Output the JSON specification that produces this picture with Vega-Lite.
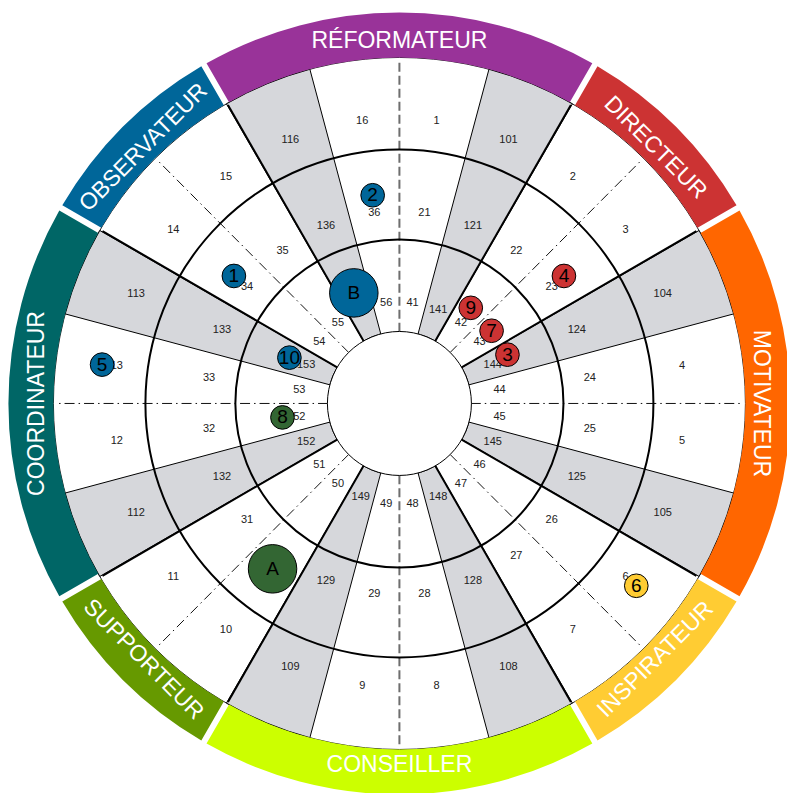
{
  "$schema": "https://vega.github.io/schema/vega-lite/v6.json",
  "width": 787,
  "height": 793,
  "autosize": {"type": "fit", "contains": "padding"},
  "padding": 0,
  "background": "white",
  "config": {"view": {"stroke": null}, "text": {"font": "Liberation Sans"}},
  "resolve": {"scale": {"color": "independent"}},
  "datasets": {
    "anneau": [
      {"type": "RÉFORMATEUR", "a0": 330, "a1": 390, "milieu": 0},
      {"type": "DIRECTEUR", "a0": 30, "a1": 60, "milieu": 45},
      {"type": "MOTIVATEUR", "a0": 60, "a1": 120, "milieu": 90},
      {"type": "INSPIRATEUR", "a0": 120, "a1": 150, "milieu": 135},
      {"type": "CONSEILLER", "a0": 150, "a1": 210, "milieu": 180},
      {"type": "SUPPORTEUR", "a0": 210, "a1": 240, "milieu": 225},
      {"type": "COORDINATEUR", "a0": 240, "a1": 300, "milieu": 270},
      {"type": "OBSERVATEUR", "a0": 300, "a1": 330, "milieu": 315}
    ],
    "gris": [
      {"a0": 15, "a1": 30}, {"a0": 60, "a1": 75}, {"a0": 105, "a1": 120}, {"a0": 150, "a1": 165},
      {"a0": 195, "a1": 210}, {"a0": 240, "a1": 255}, {"a0": 285, "a1": 300}, {"a0": 330, "a1": 345}
    ],
    "axesGris": [
      {"x1": 0, "y1": 72, "x2": 0, "y2": 346},
      {"x1": 0, "y1": -72, "x2": 0, "y2": -346}
    ],
    "axesNoirs": [
      {"x1": 72, "y1": 0, "x2": 346, "y2": 0},
      {"x1": -72, "y1": 0, "x2": -346, "y2": 0},
      {"x1": 50.9, "y1": 50.9, "x2": 244.7, "y2": 244.7},
      {"x1": 50.9, "y1": -50.9, "x2": 244.7, "y2": -244.7},
      {"x1": -50.9, "y1": -50.9, "x2": -244.7, "y2": -244.7},
      {"x1": -50.9, "y1": 50.9, "x2": -244.7, "y2": 244.7}
    ],
    "frontieres": [
      {"x1": 36, "y1": 62.35, "x2": 173, "y2": 299.6},
      {"x1": 62.35, "y1": 36, "x2": 299.6, "y2": 173},
      {"x1": 62.35, "y1": -36, "x2": 299.6, "y2": -173},
      {"x1": 36, "y1": -62.35, "x2": 173, "y2": -299.6},
      {"x1": -36, "y1": -62.35, "x2": -173, "y2": -299.6},
      {"x1": -62.35, "y1": -36, "x2": -299.6, "y2": -173},
      {"x1": -62.35, "y1": 36, "x2": -299.6, "y2": 173},
      {"x1": -36, "y1": 62.35, "x2": -173, "y2": 299.6}
    ],
    "cercles": [{"r": 164}, {"r": 254}],
    "secteurs": [
      {"n": "1", "a": 7.5, "r": 285}, {"n": "101", "a": 22.5, "r": 285}, {"n": "2", "a": 37.5, "r": 285}, {"n": "3", "a": 52.5, "r": 285},
      {"n": "104", "a": 67.5, "r": 285}, {"n": "4", "a": 82.5, "r": 285}, {"n": "5", "a": 97.5, "r": 285}, {"n": "105", "a": 112.5, "r": 285},
      {"n": "6", "a": 127.5, "r": 285}, {"n": "7", "a": 142.5, "r": 285}, {"n": "108", "a": 157.5, "r": 285}, {"n": "8", "a": 172.5, "r": 285},
      {"n": "9", "a": 187.5, "r": 285}, {"n": "109", "a": 202.5, "r": 285}, {"n": "10", "a": 217.5, "r": 285}, {"n": "11", "a": 232.5, "r": 285},
      {"n": "112", "a": 247.5, "r": 285}, {"n": "12", "a": 262.5, "r": 285}, {"n": "13", "a": 277.5, "r": 285}, {"n": "113", "a": 292.5, "r": 285},
      {"n": "14", "a": 307.5, "r": 285}, {"n": "15", "a": 322.5, "r": 285}, {"n": "116", "a": 337.5, "r": 285}, {"n": "16", "a": 352.5, "r": 285},
      {"n": "21", "a": 7.5, "r": 192}, {"n": "121", "a": 22.5, "r": 192}, {"n": "22", "a": 37.5, "r": 192}, {"n": "23", "a": 52.5, "r": 192},
      {"n": "124", "a": 67.5, "r": 192}, {"n": "24", "a": 82.5, "r": 192}, {"n": "25", "a": 97.5, "r": 192}, {"n": "125", "a": 112.5, "r": 192},
      {"n": "26", "a": 127.5, "r": 192}, {"n": "27", "a": 142.5, "r": 192}, {"n": "128", "a": 157.5, "r": 192}, {"n": "28", "a": 172.5, "r": 192},
      {"n": "29", "a": 187.5, "r": 192}, {"n": "129", "a": 202.5, "r": 192}, {"n": "30", "a": 217.5, "r": 192}, {"n": "31", "a": 232.5, "r": 192},
      {"n": "132", "a": 247.5, "r": 192}, {"n": "32", "a": 262.5, "r": 192}, {"n": "33", "a": 277.5, "r": 192}, {"n": "133", "a": 292.5, "r": 192},
      {"n": "34", "a": 307.5, "r": 192}, {"n": "35", "a": 322.5, "r": 192}, {"n": "136", "a": 337.5, "r": 192}, {"n": "36", "a": 352.5, "r": 192},
      {"n": "41", "a": 7.5, "r": 101}, {"n": "141", "a": 22.5, "r": 101}, {"n": "42", "a": 37.5, "r": 101}, {"n": "43", "a": 52.5, "r": 101},
      {"n": "144", "a": 67.5, "r": 101}, {"n": "44", "a": 82.5, "r": 101}, {"n": "45", "a": 97.5, "r": 101}, {"n": "145", "a": 112.5, "r": 101},
      {"n": "46", "a": 127.5, "r": 101}, {"n": "47", "a": 142.5, "r": 101}, {"n": "148", "a": 157.5, "r": 101}, {"n": "48", "a": 172.5, "r": 101},
      {"n": "49", "a": 187.5, "r": 101}, {"n": "149", "a": 202.5, "r": 101}, {"n": "50", "a": 217.5, "r": 101}, {"n": "51", "a": 232.5, "r": 101},
      {"n": "152", "a": 247.5, "r": 101}, {"n": "52", "a": 262.5, "r": 101}, {"n": "53", "a": 277.5, "r": 101}, {"n": "153", "a": 292.5, "r": 101},
      {"n": "54", "a": 307.5, "r": 101}, {"n": "55", "a": 322.5, "r": 101}, {"n": "156", "a": 337.5, "r": 101}, {"n": "56", "a": 352.5, "r": 101}
    ],
    "profils": [
      {"id": "2", "px": -27, "py": 209, "energie": "bleu", "niveau": "individu"},
      {"id": "1", "px": -167, "py": 128, "energie": "bleu", "niveau": "individu"},
      {"id": "5", "px": -300, "py": 39, "energie": "bleu", "niveau": "individu"},
      {"id": "10", "px": -111, "py": 46, "energie": "bleu", "niveau": "individu"},
      {"id": "B", "px": -46, "py": 111, "energie": "bleu", "niveau": "équipe"},
      {"id": "9", "px": 72, "py": 96, "energie": "rouge", "niveau": "individu"},
      {"id": "7", "px": 93, "py": 73, "energie": "rouge", "niveau": "individu"},
      {"id": "3", "px": 109, "py": 49, "energie": "rouge", "niveau": "individu"},
      {"id": "4", "px": 166, "py": 128, "energie": "rouge", "niveau": "individu"},
      {"id": "8", "px": -118, "py": -14, "energie": "vert", "niveau": "individu"},
      {"id": "A", "px": -128, "py": -166, "energie": "vert", "niveau": "équipe"},
      {"id": "6", "px": 239, "py": -183, "energie": "jaune", "niveau": "individu"}
    ]
  },
  "layer": [
    {
      "data": {"values": [{"k": "disque"}]},
      "mark": {"type": "arc", "fill": "white", "stroke": "#222222", "strokeWidth": 1},
      "encoding": {
        "x": {"datum": 0, "type": "quantitative", "scale": {"domain": [-403, 384], "nice": false, "zero": false}, "axis": null},
        "y": {"datum": 0, "type": "quantitative", "scale": {"domain": [-388, 405], "nice": false, "zero": false}, "axis": null},
        "theta": {"datum": 0, "type": "quantitative", "scale": {"domain": [0, 360], "range": [0, 6.2831854]}},
        "theta2": {"datum": 360},
        "radius": {"datum": 346, "type": "quantitative", "scale": {"type": "linear", "domain": [0, 400], "range": [0, 400], "zero": true, "nice": false}},
        "radius2": {"datum": 0}
      }
    },
    {
      "data": {"name": "gris"},
      "mark": {"type": "arc", "fill": "#d6d7db", "stroke": "black", "strokeWidth": 1},
      "encoding": {
        "x": {"datum": 0, "type": "quantitative", "scale": {"domain": [-403, 384], "nice": false, "zero": false}, "axis": null},
        "y": {"datum": 0, "type": "quantitative", "scale": {"domain": [-388, 405], "nice": false, "zero": false}, "axis": null},
        "theta": {"field": "a0", "type": "quantitative", "scale": {"domain": [0, 360], "range": [0, 6.2831854]}},
        "theta2": {"field": "a1"},
        "radius": {"datum": 346, "type": "quantitative", "scale": {"type": "linear", "domain": [0, 400], "range": [0, 400], "zero": true, "nice": false}},
        "radius2": {"datum": 72}
      }
    },
    {
      "data": {"name": "axesGris"},
      "mark": {"type": "rule", "stroke": "#6e6e6e", "strokeWidth": 2, "strokeDash": [9, 4]},
      "encoding": {
        "x": {"field": "x1", "type": "quantitative", "scale": {"domain": [-403, 384], "nice": false, "zero": false}, "axis": null},
        "y": {"field": "y1", "type": "quantitative", "scale": {"domain": [-388, 405], "nice": false, "zero": false}, "axis": null},
        "x2": {"field": "x2"},
        "y2": {"field": "y2"}
      }
    },
    {
      "data": {"name": "axesNoirs"},
      "mark": {"type": "rule", "stroke": "#111111", "strokeWidth": 1, "strokeDash": [10, 4, 1.5, 4]},
      "encoding": {
        "x": {"field": "x1", "type": "quantitative", "scale": {"domain": [-403, 384], "nice": false, "zero": false}, "axis": null},
        "y": {"field": "y1", "type": "quantitative", "scale": {"domain": [-388, 405], "nice": false, "zero": false}, "axis": null},
        "x2": {"field": "x2"},
        "y2": {"field": "y2"}
      }
    },
    {
      "data": {"name": "cercles"},
      "mark": {"type": "arc", "fill": "white", "fillOpacity": 0, "stroke": "black", "strokeWidth": 2},
      "encoding": {
        "x": {"datum": 0, "type": "quantitative", "scale": {"domain": [-403, 384], "nice": false, "zero": false}, "axis": null},
        "y": {"datum": 0, "type": "quantitative", "scale": {"domain": [-388, 405], "nice": false, "zero": false}, "axis": null},
        "theta": {"datum": 0, "type": "quantitative", "scale": {"domain": [0, 360], "range": [0, 6.2831854]}},
        "theta2": {"datum": 360},
        "radius": {"field": "r", "type": "quantitative", "scale": {"type": "linear", "domain": [0, 400], "range": [0, 400], "zero": true, "nice": false}},
        "radius2": {"datum": 0}
      }
    },
    {
      "data": {"name": "frontieres"},
      "mark": {"type": "rule", "stroke": "black", "strokeWidth": 2},
      "encoding": {
        "x": {"field": "x1", "type": "quantitative", "scale": {"domain": [-403, 384], "nice": false, "zero": false}, "axis": null},
        "y": {"field": "y1", "type": "quantitative", "scale": {"domain": [-388, 405], "nice": false, "zero": false}, "axis": null},
        "x2": {"field": "x2"},
        "y2": {"field": "y2"}
      }
    },
    {
      "data": {"values": [{"k": "centre"}]},
      "mark": {"type": "arc", "fill": "white", "stroke": "black", "strokeWidth": 1},
      "encoding": {
        "x": {"datum": 0, "type": "quantitative", "scale": {"domain": [-403, 384], "nice": false, "zero": false}, "axis": null},
        "y": {"datum": 0, "type": "quantitative", "scale": {"domain": [-388, 405], "nice": false, "zero": false}, "axis": null},
        "theta": {"datum": 0, "type": "quantitative", "scale": {"domain": [0, 360], "range": [0, 6.2831854]}},
        "theta2": {"datum": 360},
        "radius": {"datum": 72, "type": "quantitative", "scale": {"type": "linear", "domain": [0, 400], "range": [0, 400], "zero": true, "nice": false}},
        "radius2": {"datum": 0}
      }
    },
    {
      "data": {"name": "anneau"},
      "mark": {"type": "arc", "padAngle": 0.0115},
      "encoding": {
        "x": {"datum": 0, "type": "quantitative", "scale": {"domain": [-403, 384], "nice": false, "zero": false}, "axis": null},
        "y": {"datum": 0, "type": "quantitative", "scale": {"domain": [-388, 405], "nice": false, "zero": false}, "axis": null},
        "theta": {"field": "a0", "type": "quantitative", "scale": {"domain": [0, 360], "range": [0, 6.2831854]}},
        "theta2": {"field": "a1"},
        "radius": {"datum": 391, "type": "quantitative", "scale": {"type": "linear", "domain": [0, 400], "range": [0, 400], "zero": true, "nice": false}},
        "radius2": {"datum": 346},
        "color": {
          "field": "type", "type": "nominal", "legend": null,
          "scale": {
            "domain": ["RÉFORMATEUR", "DIRECTEUR", "MOTIVATEUR", "INSPIRATEUR", "CONSEILLER", "SUPPORTEUR", "COORDINATEUR", "OBSERVATEUR"],
            "range": ["#993399", "#cc3333", "#ff6600", "#ffcc33", "#ccff00", "#669900", "#006666", "#006699"]
          }
        }
      }
    },
    {
      "data": {"name": "anneau"},
      "mark": {"type": "text", "fill": "white", "fontSize": 23, "align": "center", "baseline": "middle"},
      "encoding": {
        "x": {"datum": 0, "type": "quantitative", "scale": {"domain": [-403, 384], "nice": false, "zero": false}, "axis": null},
        "y": {"datum": 0, "type": "quantitative", "scale": {"domain": [-388, 405], "nice": false, "zero": false}, "axis": null},
        "theta": {"field": "milieu", "type": "quantitative", "scale": {"domain": [0, 360], "range": [0, 6.2831854]}},
        "radius": {"datum": 362, "type": "quantitative", "scale": {"type": "linear", "domain": [0, 400], "range": [0, 400], "zero": true, "nice": false}},
        "angle": {"field": "milieu", "type": "quantitative", "legend": null, "scale": {"domain": [0, 90, 91, 269, 270, 360], "range": [0, 90, -89, 89, -90, 0]}},
        "text": {"field": "type"}
      }
    },
    {
      "data": {"name": "secteurs"},
      "mark": {"type": "text", "fill": "#222222", "fontSize": 11, "align": "center", "baseline": "middle"},
      "encoding": {
        "x": {"datum": 0, "type": "quantitative", "scale": {"domain": [-403, 384], "nice": false, "zero": false}, "axis": null},
        "y": {"datum": 0, "type": "quantitative", "scale": {"domain": [-388, 405], "nice": false, "zero": false}, "axis": null},
        "theta": {"field": "a", "type": "quantitative", "scale": {"domain": [0, 360], "range": [0, 6.2831854]}},
        "radius": {"field": "r", "type": "quantitative", "scale": {"type": "linear", "domain": [0, 400], "range": [0, 400], "zero": true, "nice": false}},
        "text": {"field": "n"}
      }
    },
    {
      "data": {"name": "profils"},
      "mark": {"type": "point", "shape": "circle", "filled": true, "opacity": 1, "stroke": "black", "strokeWidth": 1},
      "encoding": {
        "x": {"field": "px", "type": "quantitative", "scale": {"domain": [-403, 384], "nice": false, "zero": false}, "axis": null},
        "y": {"field": "py", "type": "quantitative", "scale": {"domain": [-388, 405], "nice": false, "zero": false}, "axis": null},
        "size": {"field": "niveau", "type": "ordinal", "legend": null, "scale": {"domain": ["individu", "équipe"], "range": [560, 2350]}},
        "color": {"field": "energie", "type": "nominal", "legend": null, "scale": {"domain": ["bleu", "rouge", "vert", "jaune"], "range": ["#006699", "#cc3333", "#336633", "#ffcc33"]}}
      }
    },
    {
      "data": {"name": "profils"},
      "mark": {"type": "text", "fill": "black", "fontSize": 19, "align": "center", "baseline": "middle"},
      "encoding": {
        "x": {"field": "px", "type": "quantitative", "scale": {"domain": [-403, 384], "nice": false, "zero": false}, "axis": null},
        "y": {"field": "py", "type": "quantitative", "scale": {"domain": [-388, 405], "nice": false, "zero": false}, "axis": null},
        "text": {"field": "id"}
      }
    }
  ]
}
